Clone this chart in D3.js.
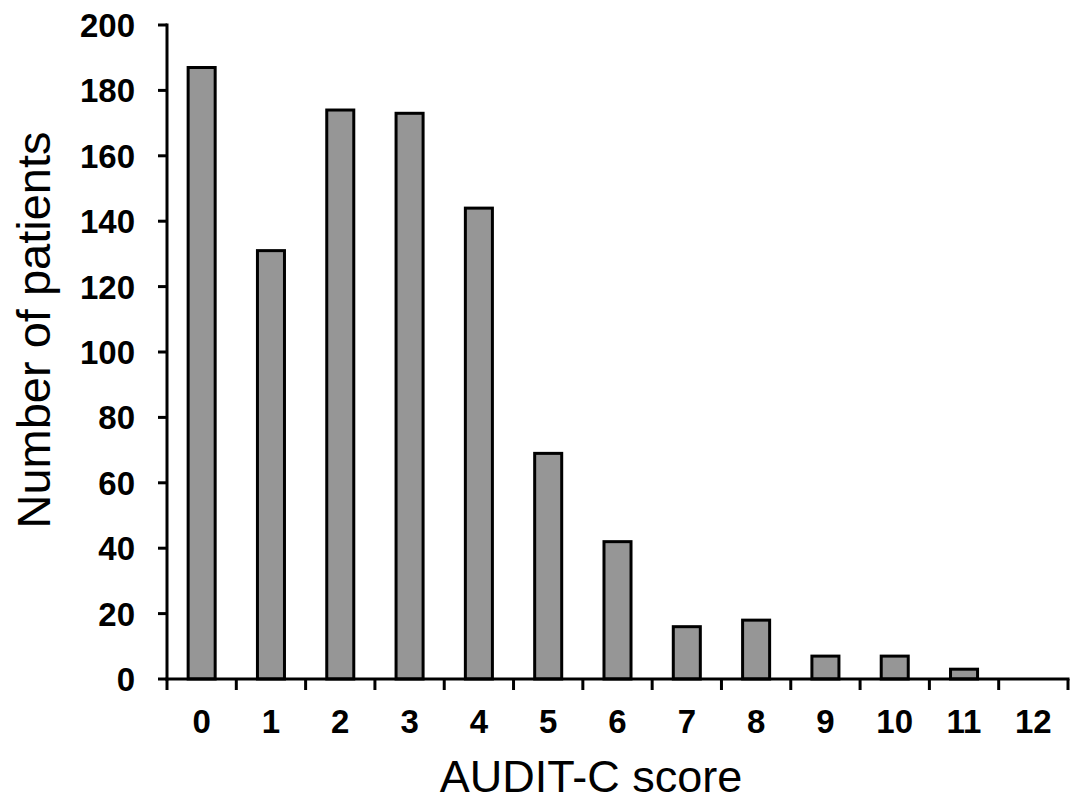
<!DOCTYPE html>
<html>
<head>
<meta charset="utf-8">
<script src="https://cdn.jsdelivr.net/npm/d3@7"></script>
<style>
  html, body { margin: 0; padding: 0; background: #fff; }
  svg { display: block; }
</style>
</head>
<body>
<svg id="chart" width="1077" height="801"></svg>
<script>
const categories = ["0","1","2","3","4","5","6","7","8","9","10","11","12"];
const patients = [187, 131, 174, 173, 144, 69, 42, 16, 18, 7, 7, 3, 0];
const yTicks = [0, 20, 40, 60, 80, 100, 120, 140, 160, 180, 200];
const xTitle = "AUDIT-C score";
const yTitle = "Number of patients";

(function () {
const svg = d3.select("#chart");
const mLeft = 167, mRight = 1068, mTop = 25, mBottom = 679;

const x = d3.scaleBand().domain(categories).range([mLeft, mRight]).padding(0);
const y = d3.scaleLinear().domain([0, 200]).range([mBottom, mTop]);

const barW = x.bandwidth() * 0.39;

// bars
svg.append("g").selectAll("rect")
  .data(categories.map((c, i) => ({c, v: patients[i]})).filter(d => d.v > 0))
  .join("rect")
  .attr("x", d => x(d.c) + x.bandwidth() / 2 - barW / 2)
  .attr("y", d => y(d.v))
  .attr("width", barW)
  .attr("height", d => y(0) - y(d.v))
  .attr("fill", "#969696")
  .attr("stroke", "#000")
  .attr("stroke-width", 3);

// y axis
const yAxis = svg.append("g");
yAxis.append("line")
  .attr("x1", mLeft).attr("x2", mLeft)
  .attr("y1", y(200) - 1.5).attr("y2", y(0) + 1.5)
  .attr("stroke", "#000").attr("stroke-width", 3);
yAxis.selectAll("line.tick").data(yTicks).join("line")
  .attr("class", "tick")
  .attr("x1", mLeft - 9).attr("x2", mLeft)
  .attr("y1", d => y(d)).attr("y2", d => y(d))
  .attr("stroke", "#000").attr("stroke-width", 3);
yAxis.selectAll("text").data(yTicks).join("text")
  .attr("x", 135)
  .attr("y", d => y(d) + 12)
  .attr("text-anchor", "end")
  .attr("font-family", "Liberation Sans, Arial, sans-serif")
  .attr("font-weight", "bold")
  .attr("font-size", 33)
  .attr("fill", "#000")
  .text(d => d);

// x axis
const xAxis = svg.append("g");
xAxis.append("line")
  .attr("x1", mLeft - 1.5).attr("x2", mRight + 1.5)
  .attr("y1", mBottom).attr("y2", mBottom)
  .attr("stroke", "#000").attr("stroke-width", 3);
const boundaries = categories.map(c => x(c)).concat([x(categories[categories.length - 1]) + x.bandwidth()]);
xAxis.selectAll("line.tick").data(boundaries).join("line")
  .attr("class", "tick")
  .attr("x1", d => d).attr("x2", d => d)
  .attr("y1", mBottom).attr("y2", mBottom + 11)
  .attr("stroke", "#000").attr("stroke-width", 3);
xAxis.selectAll("text").data(categories).join("text")
  .attr("x", d => x(d) + x.bandwidth() / 2)
  .attr("y", 733)
  .attr("text-anchor", "middle")
  .attr("font-family", "Liberation Sans, Arial, sans-serif")
  .attr("font-weight", "bold")
  .attr("font-size", 33)
  .attr("fill", "#000")
  .text(d => d);

// titles
svg.append("text")
  .attr("x", 591).attr("y", 792)
  .attr("text-anchor", "middle")
  .attr("font-family", "Liberation Sans, Arial, sans-serif")
  .attr("font-size", 45)
  .attr("fill", "#000")
  .text(xTitle);

svg.append("text")
  .attr("transform", "translate(50,330) rotate(-90)")
  .attr("text-anchor", "middle")
  .attr("font-family", "Liberation Sans, Arial, sans-serif")
  .attr("font-size", 47)
  .attr("fill", "#000")
  .text(yTitle);
})();
</script>
</body>
</html>
